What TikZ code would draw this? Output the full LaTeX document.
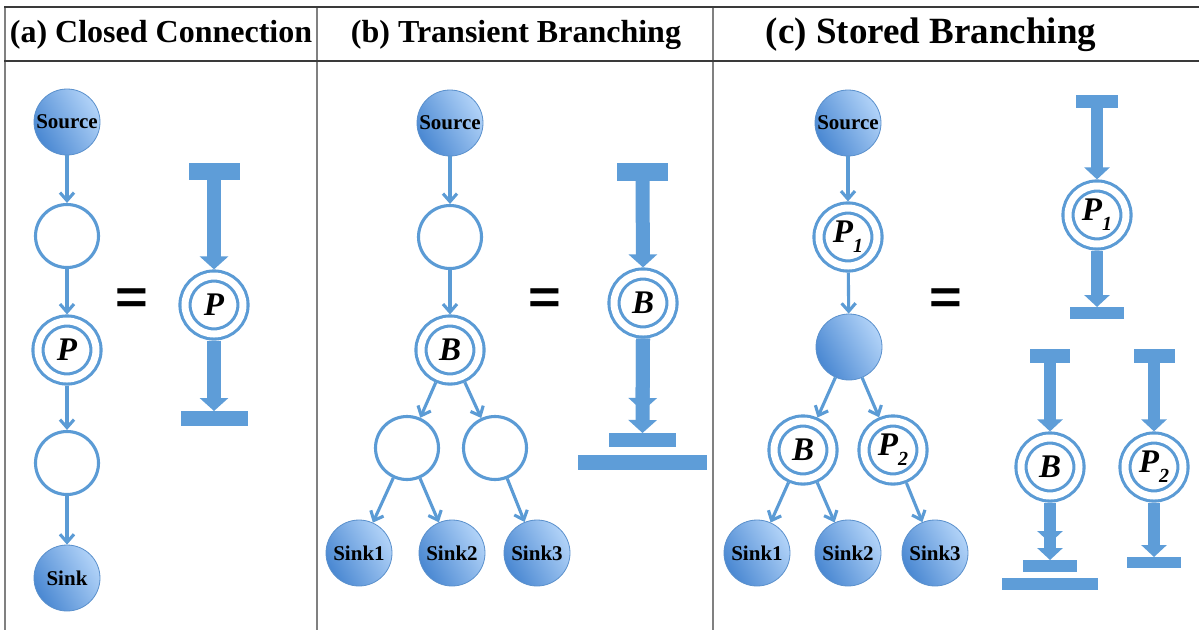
\documentclass[tikz,border=0pt]{standalone}
\usepackage{fontspec}
\setmainfont{Liberation Serif}
\newfontfamily\eqfont{Liberation Sans}
\usetikzlibrary{arrows.meta}
\definecolor{ln}{HTML}{5B9BD5}
\definecolor{thk}{HTML}{5E9DD8}
\definecolor{dk}{HTML}{4A88D2}
\definecolor{lt}{HTML}{B2D3F8}
\definecolor{rim}{HTML}{5A90CC}
\definecolor{hdr}{HTML}{3A3A3A}
\definecolor{vln}{HTML}{808080}
\begin{document}
\begin{tikzpicture}[x=1pt,y=-1pt,
  filled/.style={circle, minimum size=66pt, inner sep=0pt, draw=rim, line width=0.8pt,
     left color=dk, right color=lt, shading angle=120,
     font=\fontsize{21}{21}\selectfont\bfseries},
  empty/.style={circle, minimum size=63pt, inner sep=0pt, draw=ln, line width=3.1pt},
  dbl/.style={circle, minimum size=58pt, inner sep=0pt, outer sep=6.6pt, draw=ln, line width=3.1pt,
     double=white, double distance=7pt, font=\fontsize{33}{33}\selectfont\bfseries\itshape},
  conn/.style={draw=ln, line width=3.1pt, -{Straight Barb[length=8pt,width=14pt]}},
  bar/.style 2 args={rectangle, fill=thk, inner sep=0pt, outer sep=0pt, minimum width=#1, minimum height=#2},
  bigarr/.style={draw=thk, line width=14pt, -{Triangle[length=13pt,width=28pt]}},
  smarr/.style={draw=thk, line width=12.5pt, -{Triangle[length=12pt,width=25pt]}},
  eqsign/.style={font=\eqfont\bfseries\fontsize{56}{56}\selectfont, inner sep=0pt},
  head/.style={font=\fontsize{32}{32}\selectfont\bfseries, anchor=base, inner sep=0pt}
]
\useasboundingbox (0,0) rectangle (1199,630);
\fill[white] (0,0) rectangle (1199,630);

% frame
\draw[vln, line width=2pt] (5,7) -- (5,630);
\draw[vln, line width=2pt] (317,7) -- (317,630);
\draw[vln, line width=2pt] (713,7) -- (713,630);
\draw[hdr, line width=2pt] (4,7) -- (1199,7);
\draw[hdr, line width=2pt] (4,61) -- (1199,61);

\node[head] (ha) at (161,42) {(a) Closed Connection};
\node[head] (hb) at (516,42) {(b) Transient Branching};
\node[head, font=\fontsize{37}{37}\selectfont\bfseries] (hc) at (931,43) {(c) Stored Branching};

% ---------- (a) ----------
\node[filled] (asrc) at (67,122) {Source};
\node[empty] (ae1) at (67,236) {};
\node[dbl] (aP) at (67,350) {P};
\node[empty] (ae2) at (67,463) {};
\node[filled] (asink) at (67,578) {Sink};
\draw[conn] (asrc) -- (ae1);
\draw[conn] (ae1) -- (aP);
\draw[conn] (aP) -- (ae2);
\draw[conn] (ae2) -- (asink);

\node[eqsign] (eqa) at (132,301) {\scalebox{1}[0.85]{=}};

\node[bar={51pt}{17pt}] (tat) at (214,171.5) {};
\node[dbl] (taP) at (214,305) {P};
\node[bar={67pt}{15pt}] (tab) at (214,418.5) {};
\draw[bigarr] (tat.south) -- (taP.north);
\draw[bigarr] (taP.south) -- (tab.north);

% ---------- (b) ----------
\node[filled] (bsrc) at (450,123) {Source};
\node[empty] (be1) at (450,237) {};
\node[dbl] (bB) at (450,350) {B};
\node[empty] (beL) at (407,448) {};
\node[empty] (beR) at (495,448) {};
\node[filled] (bs1) at (359,553) {Sink1};
\node[filled] (bs2) at (452,553) {Sink2};
\node[filled] (bs3) at (537,553) {Sink3};
\draw[conn] (bsrc) -- (be1);
\draw[conn] (be1) -- (bB);
\draw[conn] (bB) -- (beL);
\draw[conn] (bB) -- (beR);
\draw[conn] (beL) -- (bs1);
\draw[conn] (beL) -- (bs2);
\draw[conn] (beR) -- (bs3);

\node[eqsign] (eqb) at (545,301) {\scalebox{1}[0.85]{=}};

\node[bar={51pt}{18pt}] (tbt) at (642.5,172) {};
\node[dbl] (tbB) at (643,303) {B};
\node[bar={67pt}{14pt}] (tbb1) at (642.5,440) {};
\node[bar={129pt}{15pt}] (tbb2) at (642.5,462.5) {};
\draw[bigarr] (tbt.south) -- (tbB.north);
\draw[bigarr] (tbB.south) -- (tbb1.north);
\draw[bigarr, shorten >=22pt] (tbB.south) -- (tbb1.north);

% ---------- (c) ----------
\node[filled] (csrc) at (848,123) {Source};
\node[dbl] (cP1) at (848,237) {P\raisebox{-0.3em}{\fontsize{20}{20}\selectfont 1}};
\node[filled] (cF) at (849,347) {};
\node[dbl] (cB) at (803,450) {B};
\node[dbl] (cP2) at (893,450) {P\raisebox{-0.3em}{\fontsize{20}{20}\selectfont 2}};
\node[filled] (cs1) at (757,553) {Sink1};
\node[filled] (cs2) at (848,553) {Sink2};
\node[filled] (cs3) at (935,553) {Sink3};
\draw[conn] (csrc) -- (cP1);
\draw[conn] (cP1) -- (cF);
\draw[conn] (cF) -- (cB);
\draw[conn] (cF) -- (cP2);
\draw[conn] (cB) -- (cs1);
\draw[conn] (cB) -- (cs2);
\draw[conn] (cP2) -- (cs3);

\node[eqsign] (eqc) at (946,301) {\scalebox{1}[0.85]{=}};

\node[bar={42pt}{13pt}] (tc1t) at (1097,101.5) {};
\node[dbl] (tcP1) at (1097,215) {P\raisebox{-0.3em}{\fontsize{20}{20}\selectfont 1}};
\node[bar={54pt}{12pt}] (tc1b) at (1097,313) {};
\draw[smarr] (tc1t.south) -- (tcP1.north);
\draw[smarr] (tcP1.south) -- (tc1b.north);

\node[bar={40pt}{14pt}] (tc2t) at (1050,356) {};
\node[dbl] (tcB) at (1050,467) {B};
\node[bar={54pt}{12pt}] (tc2b1) at (1050,566) {};
\node[bar={96pt}{12pt}] (tc2b2) at (1050,584) {};
\draw[smarr] (tc2t.south) -- (tcB.north);
\draw[smarr] (tcB.south) -- (tc2b1.north);
\draw[smarr, shorten >=17pt] (tcB.south) -- (tc2b1.north);

\node[bar={41pt}{14pt}] (tc3t) at (1154,356) {};
\node[dbl] (tcP2) at (1154,467) {P\raisebox{-0.3em}{\fontsize{20}{20}\selectfont 2}};
\node[bar={54pt}{11pt}] (tc3b) at (1154,562.5) {};
\draw[smarr] (tc3t.south) -- (tcP2.north);
\draw[smarr] (tcP2.south) -- (tc3b.north);
\end{tikzpicture}
\end{document}
